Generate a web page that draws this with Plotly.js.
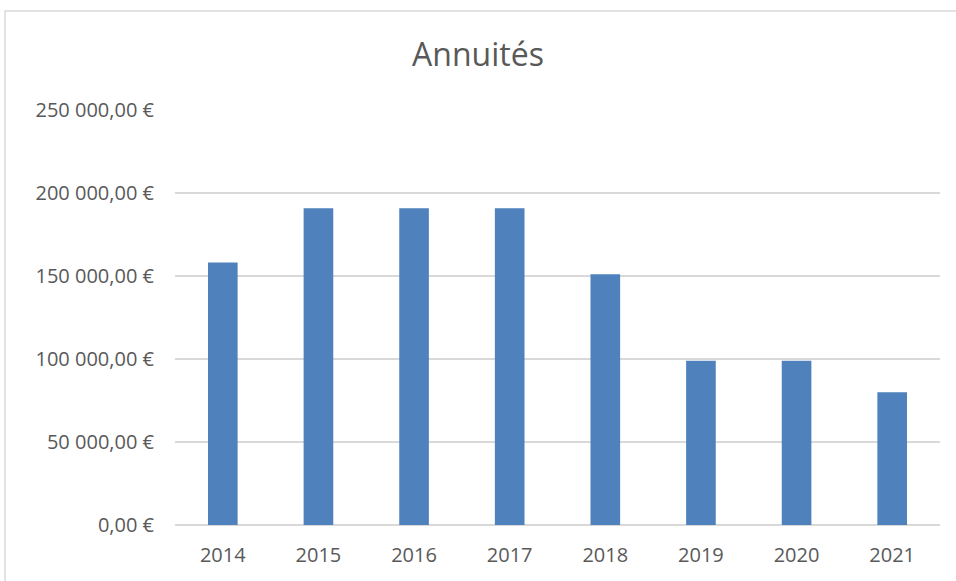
<!DOCTYPE html>
<html>
<head>
<meta charset="utf-8">
<script src="https://cdn.plot.ly/plotly-3.0.1.min.js"></script>
<style>
html,body{margin:0;padding:0;background:#fff;}
#chart{width:956px;height:581px;}
</style>
</head>
<body>
<div id="chart"></div>
<script>
const years = ["2014","2015","2016","2017","2018","2019","2020","2021"];
const annuites = [158200, 190800, 190800, 190800, 151000, 99000, 99000, 79900];
const yTicks = [0, 50000, 100000, 150000, 200000, 250000];

function fmtEuro(v) {
  const parts = v.toFixed(2).split('.');
  const intPart = parts[0].replace(/\B(?=(\d{3})+(?!\d))/g, ' ');
  return intPart + ',' + parts[1] + ' €';
}
const yTickText = yTicks.map(fmtEuro);

const font = "'Open Sans', sans-serif";

Plotly.newPlot('chart', [{
  type: 'bar',
  x: years,
  y: annuites,
  marker: {color: '#4f81bd', line: {width: 0}},
  hoverinfo: 'skip'
}], {
  width: 956, height: 581,
  margin: {l: 175, r: 16, t: 110, b: 56},
  paper_bgcolor: '#fff', plot_bgcolor: '#fff',
  bargap: 0.69,
  showlegend: false,
  title: {text: 'Annuités', font: {family: font, size: 32, color: '#595959'}, x: 0.5, xanchor: 'center', y: 0.905, yanchor: 'middle'},
  xaxis: {
    type: 'category',
    showgrid: false, zeroline: false, showline: false,
    ticks: '', ticklabelstandoff: 16,
    tickfont: {family: font, size: 20, color: '#595959'}
  },
  yaxis: {
    range: [0, 250000],
    tickmode: 'array',
    tickvals: yTicks,
    ticktext: yTickText,
    showgrid: true, gridcolor: '#d9d9d9', gridwidth: 1.5,
    zeroline: true, zerolinecolor: '#d9d9d9', zerolinewidth: 1.5,
    showline: false, ticks: '', ticklabelstandoff: 20,
    tickfont: {family: font, size: 20, color: '#595959'}
  },
  shapes: [{
    type: 'rect', xref: 'paper', yref: 'paper',
    x0: -0.2222, x1: 1.3, y0: -0.5, y1: 1.2386,
    line: {color: '#d9d9d9', width: 1.5}, fillcolor: 'rgba(0,0,0,0)'
  }]
}, {displayModeBar: false, staticPlot: true});
</script>
</body>
</html>
